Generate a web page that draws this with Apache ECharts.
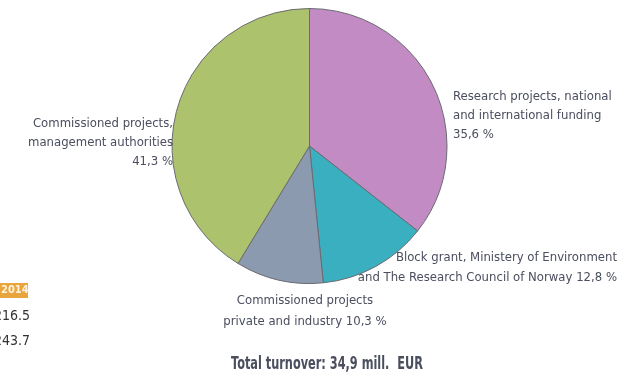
<!DOCTYPE html>
<html>
<head>
<meta charset="utf-8">
<script src="https://cdn.jsdelivr.net/npm/echarts@6/dist/echarts.min.js"></script>
<style>
  html, body { margin: 0; padding: 0; background: #ffffff; }
  #chart { width: 631px; height: 377px; }
</style>
</head>
<body>
<div id="chart"></div>
<script>
// Turnover by source of funding (percent of total)
const categories = [
  'Research projects, national\nand international funding',
  'Block grant, Ministery of Environment\nand The Research Council of Norway',
  'Commissioned projects\nprivate and industry',
  'Commissioned projects,\nmanagement authorities'
];
const shares = [35.6, 12.8, 10.3, 41.3];
const valueOnOwnLine = [true, false, false, true];
const totalText = 'Total turnover: 34,9 mill.  EUR';

// Fragment of the neighbouring table at the left edge
const tableYear = '2014';
const tableValues = ['216.5', '243.7'];

const colors = ['#c28bc4', '#3aafc0', '#8b9aae', '#adc26c'];
const font = "'Liberation Sans Narrow', 'DejaVu Sans Condensed', 'Roboto Condensed', sans-serif";
const textColor = '#4a4e5e';

// Label anchor per slice: [x, top, align, lineHeight]
const labelSpots = [
  [453, 87, 'left', 19],
  [617, 248, 'right', 20],
  [305, 290, 'center', 21],
  [173, 114, 'right', 19]
];

const fmt = v => v.toFixed(1).replace('.', ',') + ' %';

const chart = echarts.init(document.getElementById('chart'), null, { renderer: 'canvas' });
chart.setOption({
  animation: false,
  backgroundColor: '#ffffff',
  series: [{
    type: 'pie',
    center: [309.5, 146],
    radius: 137.5,
    startAngle: 90,
    clockwise: true,
    silent: true,
    data: shares.map((v, i) => ({
      name: categories[i],
      value: v,
      itemStyle: { color: colors[i] },
      label: { lineHeight: labelSpots[i][3] }
    })),
    itemStyle: { borderColor: '#6b6b72', borderWidth: 1 },
    label: {
      show: true,
      fontFamily: font,
      fontSize: 13,
      color: textColor,
      overflow: 'none',
      width: 400,
      formatter: p => p.name + (valueOnOwnLine[p.dataIndex] ? '\n' : ' ') + fmt(p.value)
    },
    labelLine: { show: false },
    labelLayout: p => {
      const s = labelSpots[p.dataIndex];
      return { x: s[0], y: s[1], align: s[2], verticalAlign: 'top' };
    }
  }],
  graphic: [
    {
      type: 'text', x: 327, y: 356, scaleX: 0.74,
      style: { text: totalText, fontFamily: font, fontSize: 17, fontWeight: 'bold', fill: textColor, align: 'center' }
    },
    {
      type: 'rect', shape: { x: -4, y: 283, width: 32, height: 15 },
      style: { fill: '#e9a53d' }
    },
    {
      type: 'text', x: 1, y: 285,
      style: { text: tableYear, fontFamily: font, fontSize: 11, fontWeight: 'bold', fill: '#fff3dc' }
    },
    {
      type: 'text', x: -6, y: 309,
      style: { text: tableValues[0], fontFamily: font, fontSize: 14, fill: '#333333' }
    },
    {
      type: 'text', x: -6, y: 334,
      style: { text: tableValues[1], fontFamily: font, fontSize: 14, fill: '#333333' }
    }
  ]
});
</script>
</body>
</html>
